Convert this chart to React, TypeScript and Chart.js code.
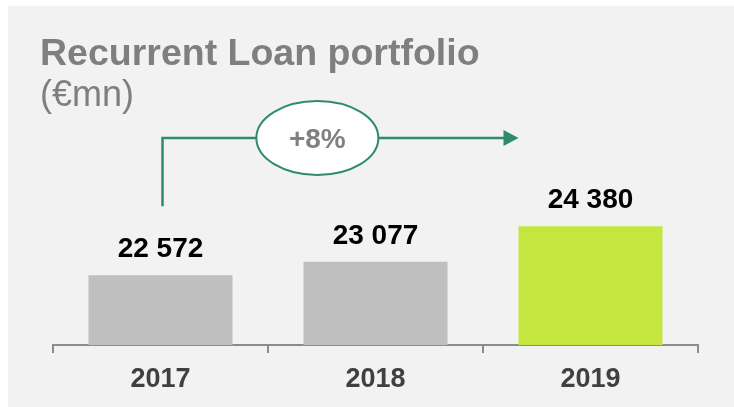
import React, { useEffect, useRef } from "react";
import { Chart, registerables } from "chart.js";

Chart.register(...registerables);

const categories = ["2017", "2018", "2019"];
const loanValues = [22572, 23077, 24380];
const valueLabels = ["22 572", "23 077", "24 380"];
const barColors = ["#bfbfbf", "#bfbfbf", "#c5e63e"];
const growthLabel = "+8%";
const titleText = "Recurrent Loan portfolio";
const unitText = "(€mn)";
const yMin = 20000;
const yMax = 31000;

const FONT = "'Liberation Sans', Arial, sans-serif";
const GREEN = "#2e8b6e";

const decorPlugin = {
  id: "decor",
  beforeDraw(chart: any) {
    const { ctx, width, height } = chart;
    ctx.save();
    ctx.fillStyle = "#ffffff";
    ctx.fillRect(0, 0, width, height);
    ctx.fillStyle = "#f2f2f2";
    ctx.fillRect(8, 6, width - 8, height - 6);
    ctx.restore();
  },
  afterDatasetsDraw(chart: any) {
    const { ctx } = chart;
    const meta = chart.getDatasetMeta(0);
    ctx.save();
    ctx.fillStyle = "#000000";
    ctx.font = `bold 28px ${FONT}`;
    ctx.textAlign = "center";
    ctx.textBaseline = "alphabetic";
    meta.data.forEach((el: any, i: number) => {
      ctx.fillText(valueLabels[i], el.x, el.y - 18);
    });
    ctx.restore();
  },
  afterDraw(chart: any) {
    const { ctx, chartArea } = chart;
    const meta = chart.getDatasetMeta(0);
    const b0 = meta.data[0];
    const b2 = meta.data[2];
    ctx.save();
    // title
    ctx.fillStyle = "#7f7f7f";
    ctx.textAlign = "left";
    ctx.textBaseline = "alphabetic";
    ctx.font = `bold 37.5px ${FONT}`;
    ctx.fillText(titleText, 40, 65);
    ctx.font = `36px ${FONT}`;
    ctx.fillText(unitText, 40, 106);

    // growth arrow
    const xStart = b0.x + 2;
    const xEnd = b2.x - b2.width / 2;
    const yLine = chartArea.top + 91;
    const yBottom = b0.y - 69;
    ctx.strokeStyle = GREEN;
    ctx.fillStyle = GREEN;
    ctx.lineWidth = 2.5;
    ctx.beginPath();
    ctx.moveTo(xStart, yBottom);
    ctx.lineTo(xStart, yLine);
    ctx.lineTo(xEnd - 14, yLine);
    ctx.stroke();
    ctx.beginPath();
    ctx.moveTo(xEnd - 15, yLine - 8);
    ctx.lineTo(xEnd, yLine);
    ctx.lineTo(xEnd - 15, yLine + 8);
    ctx.closePath();
    ctx.fill();

    const cx = xStart + (xEnd - xStart) * 0.435;
    ctx.beginPath();
    ctx.ellipse(cx, yLine, 61, 37, 0, 0, Math.PI * 2);
    ctx.fillStyle = "#ffffff";
    ctx.fill();
    ctx.lineWidth = 2;
    ctx.stroke();

    ctx.fillStyle = "#808080";
    ctx.font = `bold 28px ${FONT}`;
    ctx.textAlign = "center";
    ctx.textBaseline = "middle";
    ctx.fillText(growthLabel, cx, yLine + 2);
    ctx.restore();
  },
};

export default function App() {
  const canvasRef = useRef<HTMLCanvasElement | null>(null);

  useEffect(() => {
    if (!canvasRef.current) return;
    const chart = new Chart(canvasRef.current, {
      type: "bar",
      data: {
        labels: categories,
        datasets: [
          {
            data: loanValues,
            backgroundColor: barColors,
            barPercentage: 0.67,
            categoryPercentage: 1,
          },
        ],
      },
      options: {
        animation: false,
        responsive: false,
        devicePixelRatio: 1,
        layout: { padding: { left: 53, right: 36, top: 47, bottom: 0 } },
        plugins: {
          legend: { display: false },
          tooltip: { enabled: false },
          title: { display: false },
        },
        scales: {
          x: {
            offset: true,
            grid: {
              display: true,
              drawOnChartArea: false,
              drawTicks: true,
              tickLength: 8,
              color: "#8c8c8c",
              lineWidth: 2,
              offset: true,
            },
            border: { display: true, color: "#8c8c8c", width: 2 },
            ticks: {
              color: "#404040",
              font: { family: FONT, size: 27, weight: "bold" },
              padding: 10,
            },
            afterFit: (scale: any) => {
              scale.height = 62;
            },
          },
          y: { display: false, min: yMin, max: yMax },
        },
      },
      plugins: [decorPlugin],
    } as any);
    return () => chart.destroy();
  }, []);

  return (
    <div style={{ position: "fixed", left: 0, top: 0, width: 734, height: 407 }}>
      <canvas ref={canvasRef} width={734} height={407} style={{ display: "block" }} />
    </div>
  );
}
